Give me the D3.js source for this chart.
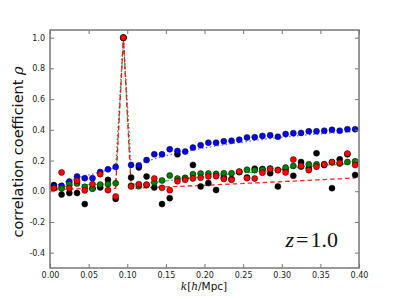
<!DOCTYPE html>
<html>
<head>
<meta charset="utf-8">
<script src="https://cdn.jsdelivr.net/npm/d3@7"></script>
<style>
body{margin:0;background:#fff;}
.axis text{font-family:"DejaVu Sans",sans-serif;font-size:8px;fill:#222;}
.axis path,.axis line{stroke:#777;}
</style>
</head>
<body>
<svg id="chart" width="399" height="299"></svg>
<script>
// k bins
var kVals=[0.005,0.015,0.025,0.035,0.045,0.055,0.065,0.075,0.085,0.095,
0.105,0.115,0.125,0.135,0.145,0.155,0.165,0.175,0.185,0.195,
0.205,0.215,0.225,0.235,0.245,0.255,0.265,0.275,0.285,0.295,
0.305,0.315,0.325,0.335,0.345,0.355,0.365,0.375,0.385,0.395];

var blackPts=[0.04,-0.022,-0.012,-0.012,-0.084,0.02,0.025,0.074,-0.05,1.0,
0.089,0.155,0.096,0.024,-0.084,-0.045,0.24,0.083,0.171,0.031,
0.053,0.008,0.089,0.08,0.125,0.09,0.147,0.145,0.117,0.031,
0.14,0.1,0.19,0.15,0.247,0.17,0.02,0.208,0.24,0.106];
var bluePts=[0.03,0.035,0.063,0.096,0.085,0.085,0.125,0.143,0.158,1.0,
0.171,0.168,0.203,0.24,0.24,0.273,0.262,0.258,0.284,0.3,
0.316,0.316,0.325,0.329,0.336,0.35,0.352,0.36,0.364,0.355,
0.372,0.378,0.38,0.39,0.39,0.394,0.4,0.394,0.404,0.404];
var greenPts=[0.02,0.018,0.045,0.05,0.029,0.016,0.043,0.046,0.052,1.0,
0.035,0.033,0.04,0.057,0.07,0.102,0.083,0.087,0.111,0.115,
0.115,0.113,0.117,0.117,0.125,0.14,0.137,0.14,0.148,0.139,
0.154,0.165,0.16,0.175,0.175,0.175,0.188,0.18,0.19,0.195];
var redPts=[0.02,0.122,0.02,0.068,0.005,0.046,0.111,0.007,-0.034,1.0,
0.031,0.046,0.043,0.083,0.022,0.007,0.065,0.074,0.083,0.087,
0.096,0.098,0.08,0.074,0.128,0.085,0.083,0.12,0.145,0.137,
0.122,0.206,0.165,0.137,0.16,0.175,0.19,0.184,0.245,0.17];

// model curves
var blueLine=[0.035,0.05,0.07,0.085,0.1,0.112,0.125,0.14,0.155,1.0,
0.165,0.18,0.195,0.21,0.225,0.237,0.248,0.258,0.268,0.277,
0.286,0.294,0.302,0.31,0.317,0.324,0.331,0.337,0.343,0.349,
0.354,0.359,0.364,0.368,0.372,0.376,0.38,0.383,0.386,0.389];
var greenLine=[0.015,0.025,0.035,0.04,0.042,0.044,0.046,0.048,0.05,1.0,
0.045,0.048,0.052,0.058,0.064,0.07,0.076,0.082,0.088,0.093,
0.098,0.103,0.108,0.112,0.117,0.121,0.125,0.129,0.133,0.137,
0.15,0.154,0.158,0.162,0.166,0.169,0.172,0.175,0.178,0.18];
var redLine=[0.01,0.012,0.014,0.015,0.016,0.017,0.018,0.018,0.019,1.0,
0.02,0.021,0.023,0.025,0.027,0.029,0.031,0.033,0.036,0.038,
0.04,0.042,0.045,0.047,0.049,0.052,0.054,0.056,0.059,0.061,
0.064,0.066,0.069,0.071,0.074,0.076,0.079,0.081,0.084,0.087];

var xTicks=[0,0.05,0.1,0.15,0.2,0.25,0.3,0.35,0.4];
var yTicks=[-0.4,-0.2,0.0,0.2,0.4,0.6,0.8,1.0];

var svg=d3.select("#chart");
var x=d3.scaleLinear().domain([0,0.4]).range([50,359]);
var y=d3.scaleLinear().domain([-0.5,1.05]).range([268,30]);

// lines
var lineFor=function(vals){
  return d3.line().x(function(d,i){return x(kVals[i]);}).y(function(d){return y(d);})(vals);
};
svg.append("path").attr("d",lineFor(blueLine)).attr("fill","none")
  .attr("stroke","#3344ff").attr("stroke-width",1.3).attr("stroke-dasharray","1.5,2.5").attr("opacity",0.8);
svg.append("path").attr("d",lineFor(greenLine)).attr("fill","none")
  .attr("stroke","#119911").attr("stroke-width",1.2).attr("stroke-dasharray","5,2,1.5,2").attr("opacity",0.75);
svg.append("path").attr("d",lineFor(redLine)).attr("fill","none")
  .attr("stroke","#ff0000").attr("stroke-width",1.3).attr("stroke-dasharray","4.5,3").attr("opacity",0.85);

// points
var series=[[blackPts,"#000000"],[bluePts,"#0000ff"],[greenPts,"#007f00"],[redPts,"#ff0000"]];
series.forEach(function(s){
  svg.append("g").selectAll("circle").data(s[0]).enter().append("circle")
    .attr("cx",function(d,i){return x(kVals[i]);})
    .attr("cy",function(d){return y(d);})
    .attr("r",3.0)
    .attr("fill",s[1])
    .attr("stroke","#000").attr("stroke-width",0.5);
});

// axes, ticks inward on all four sides
svg.append("g").attr("class","axis").attr("transform","translate(0,268)")
  .call(d3.axisBottom(x).tickValues(xTicks).tickFormat(d3.format(".2f")).tickSizeInner(-4).tickSizeOuter(0).tickPadding(4));
svg.append("g").attr("class","axis").attr("transform","translate(0,30)")
  .call(d3.axisTop(x).tickValues(xTicks).tickFormat("").tickSizeInner(-4).tickSizeOuter(0));
svg.append("g").attr("class","axis").attr("transform","translate(50,0)")
  .call(d3.axisLeft(y).tickValues(yTicks).tickFormat(function(d){return d.toFixed(1);}).tickSizeInner(-4).tickSizeOuter(0).tickPadding(5));
svg.append("g").attr("class","axis").attr("transform","translate(359,0)")
  .call(d3.axisRight(y).tickValues(yTicks).tickFormat("").tickSizeInner(-4).tickSizeOuter(0));
svg.selectAll(".axis .domain").remove();

// frame
svg.append("rect").attr("x",50).attr("y",30).attr("width",309).attr("height",238)
  .attr("fill","none").attr("stroke","#777").attr("stroke-width",1.5);

// labels
var ylab=svg.append("text").attr("transform","translate(23,152) rotate(-90)")
  .attr("text-anchor","middle").style("font-family","DejaVu Sans").style("font-size","14.5px").attr("fill","#111");
ylab.append("tspan").text("correlation coefficient ");
ylab.append("tspan").text("\u03c1").style("font-family","DejaVu Serif").style("font-style","italic");

var xlab=svg.append("text").attr("x",204).attr("y",290).attr("text-anchor","middle")
  .style("font-size","10.5px").attr("fill","#111");
xlab.append("tspan").text("k").style("font-family","DejaVu Serif").style("font-style","italic");
xlab.append("tspan").text("[").style("font-family","DejaVu Serif");
xlab.append("tspan").text("h").style("font-family","DejaVu Serif").style("font-style","italic");
xlab.append("tspan").text("/").style("font-family","DejaVu Serif");
xlab.append("tspan").text("Mpc").style("font-family","DejaVu Sans");
xlab.append("tspan").text("]").style("font-family","DejaVu Serif");

var zlab=svg.append("text").attr("x",338).attr("y",247).attr("text-anchor","end")
  .style("font-family","Liberation Serif").style("font-size","22px").attr("fill","#111");
zlab.append("tspan").text("z").style("font-style","italic");
zlab.append("tspan").text("=").attr("dx",2);
zlab.append("tspan").text("1.0").attr("dx",2);
</script>
</body>
</html>
